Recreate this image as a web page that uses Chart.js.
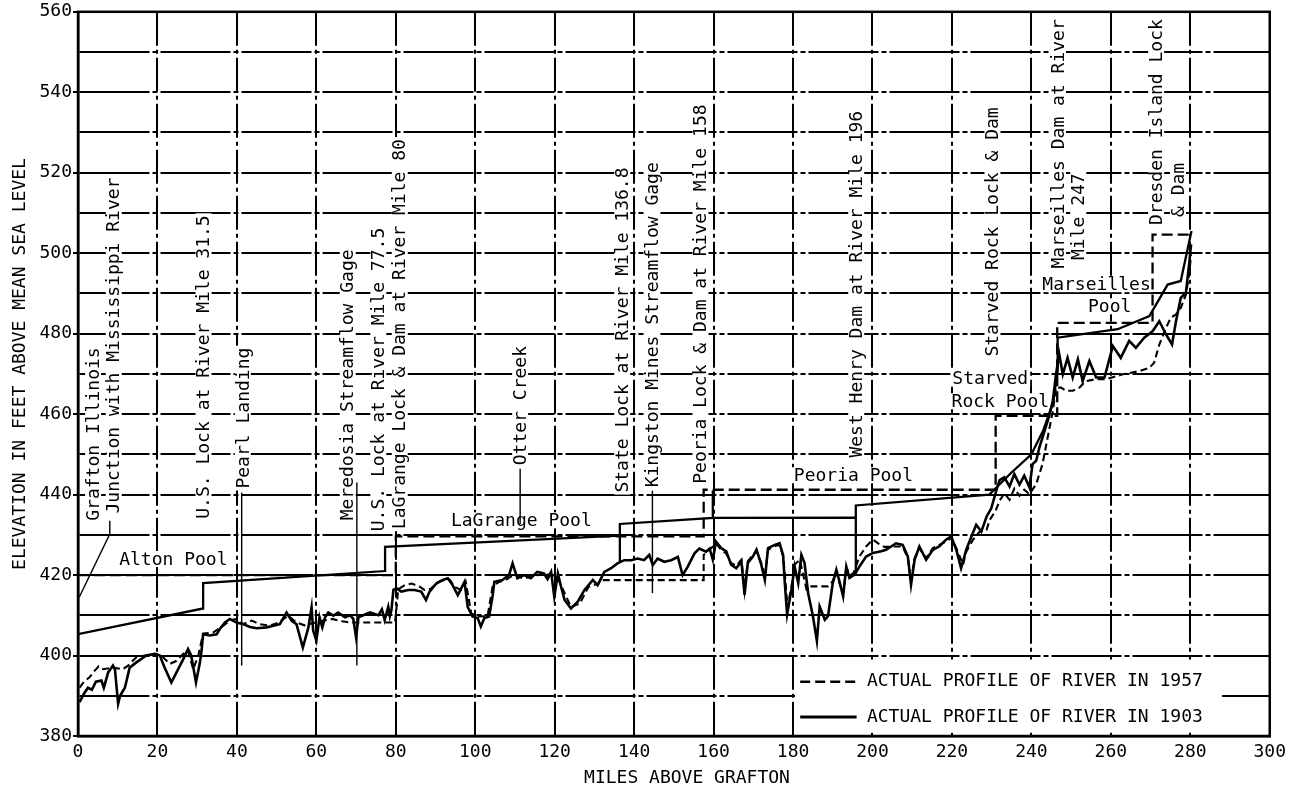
<!DOCTYPE html>
<html lang="en">
<head>
<meta charset="UTF-8">
<title>Illinois River profile, Grafton to Dresden</title>
<script src="https://cdn.jsdelivr.net/npm/chart.js"></script>
<style>
  html, body { margin: 0; padding: 0; background: #fff; }
  #wrap { width: 1292px; height: 794px; }
</style>
</head>
<body>
<div id="wrap"><canvas id="profileChart" width="1292" height="794"></canvas></div>
<script>
// miles above Grafton / elevation in feet above mean sea level

// low-water profile, 1903 (solid)
const miles1903 = [0.4,1.5,2.5,3.5,4.5,5.9,6.5,7.6,8.8,9.3,10.1,10.6,11.8,13,14.7,17.2,19.3,20.6,21.8,23.5,24.8,26.5,27.7,28.5,29.7,30.7,31.1,31.5,33.2,34.9,35.7,37,38.2,39.9,41.6,43.3,45,47.5,49.2,50.8,52.5,53.8,55,56.6,58,58.8,59.2,60,60.8,61.5,62.2,63,64.3,65.5,67.2,68.5,69.3,70,70.6,71.8,73.5,75.6,76.5,77.2,78.1,78.5,78.9,79.4,80.2,81.4,83.1,84.7,86.4,87.6,88.5,90.2,91.8,93.1,94.3,95.6,97.3,98.1,99.3,100.6,101.4,102.3,103.5,104.4,104.8,106.9,108.5,109.4,110.6,112.3,114,115.6,117.3,118.2,119.1,119.9,120.8,121.6,122.5,124.1,125.8,127.5,129.6,130.8,132.5,134.2,135.8,137.5,139.2,140.9,142.5,143.8,144.7,145.9,147.6,149.3,151,152.2,153.5,155.2,156.4,158.1,159,159.8,160.6,161.9,163.2,164.4,165.7,167,167.8,168.6,169.9,170.8,172,172.9,173.7,175.4,176.6,177.5,177.9,178.5,179.6,180.4,181.3,182.1,182.9,183.8,185,186,186.7,188,188.8,190,190.9,191.7,192.6,193.4,194.2,195.5,196.7,198.4,200.1,202.2,203.4,204.7,205.9,207.6,208.9,209.7,210.6,211.8,213.5,215.2,216.8,218.5,219.8,221.1,222.3,223.6,224.9,226.1,227.4,228.7,229.9,231.2,232,233.2,234.5,235.7,237,238.2,239.5,240.3,241.2,242,243.3,244.5,245.4,246.2,247,247.9,249.1,250.4,251.7,252.9,254.6,256.3,258.4,260.5,262.5,264.6,266.3,268.4,270.5,272.2,273.9,275.4,276.4,277.6,278.9,279.7,280.2];
const elev1903 = [388.4,390.5,392,391.5,393.5,393.8,392,395.8,397.5,396.5,388,390,392,397,398.3,400,400.4,400,397,393.3,395.8,399.1,401.6,400,393.3,398.3,401.2,405.3,405,405.3,406.6,408.2,409.1,408.2,407.8,407.1,406.8,407,407.4,407.8,410.7,408.6,407.8,402,407,412,406.2,403.7,409.5,407,409.5,410.7,409.9,410.7,409.5,410,409.1,404.5,409.5,410,410.7,410,411.5,408.8,412.1,409.8,411.3,416.3,416.7,415.9,416.3,416.3,415.9,413.8,415.9,417.9,418.8,419.2,417.5,415,418.3,412.1,409.7,409.3,407.2,409.3,409.7,415,418.3,418.8,420,422.9,419.2,420,419.2,420.8,420.4,419,420.8,414.6,420.4,417.1,413.8,411.7,413.4,416.3,418.8,417.5,420.8,421.7,422.9,423.7,423.7,424.1,423.7,425,422.5,424.1,423.3,423.7,424.5,420,422.1,425.4,426.6,425.8,426.6,423.8,428.3,426.7,425.9,422.6,421.7,423.4,415.1,423,424.6,426.3,422.6,418.8,426.7,427.5,427.9,425,418.4,410.2,416.4,422.1,418,425,423,415.5,409.8,403.6,412.2,408.9,409.8,418,421.3,418.4,414.7,422.1,419.3,420.1,422.1,424.6,425.5,425.9,426.3,427.1,427.9,427.5,424.6,417.6,423.8,427.1,423.8,426.3,427.1,428.8,429.6,426.3,421.7,426.3,429.6,432.5,430.8,434.5,436.6,441.1,443.6,444.3,442,445.1,442.5,444.7,441.8,447.6,448.4,451.7,455.8,459.6,463.3,469.9,474.9,469.9,474,469.1,473.6,468.2,473.2,469.1,469.1,476.9,474,478.2,476.5,479,480.6,483.1,479.8,477.3,483.1,488.9,490.2,497.2,502.2];

// low-water profile, 1957 (dashed)
const miles1957 = [0.4,1.5,2.9,4,5.2,6.3,8.8,11.3,12.6,14.7,16.8,19.7,21.5,23.1,24.8,26.5,27.7,29,30.3,31.1,31.6,34,36.6,38.2,39.9,41.6,43.7,45.8,48.3,50.5,52.9,55,57,59,61.8,64,66.5,68.5,71,74,76.9,79.8,80.2,80.6,82.3,84,86,87.2,88.8,90.7,92.4,93.6,94.8,96.4,97.6,99,100.6,103.1,104.4,106,107.7,108.9,110.2,111.9,114.5,117,119.5,120.8,122.5,124.1,126.3,128.5,131,131.5,157.5,157.5,159,160.6,162,163.2,164.4,165.7,167,167.8,168.6,169.9,170.8,172,172.9,173.7,175.4,176.6,177.5,178,178.6,179.6,180.4,181.7,183.4,184.6,186.7,188.8,190,190.9,191.7,192.6,193.4,195.1,196.7,198.4,200.1,201.5,203,205.6,207.6,208.9,209.7,210.6,211.8,213.5,215.2,216.8,218.5,219.8,221.1,222.8,223.6,225.3,227,228.7,229.5,231,232,233.2,234.5,235.7,237,238.2,239.5,241.2,242.8,244.1,245.4,246.2,247.5,248.7,250.4,252.1,253.7,256.3,258.8,263,267.2,269.7,270.9,272.2,273.9,275.1,276.4,277.6,278.9,279.7,280.2];
const elev1957 = [392,393.5,394.6,396,397.3,396.6,397,396.6,397.5,399.6,400,400.4,399.5,397.9,398.7,400.4,401.2,396.6,400,403.7,405.5,405.7,407.4,408.7,409.1,407.8,408.7,407.8,407.4,408.2,409.9,408.2,407.5,408,408.7,409.1,408.5,408.2,408.2,408.2,408.2,408.2,412,416.5,417.5,417.9,417.1,416.3,416.6,418.3,418.8,418.8,417.1,416.3,418.3,410.5,409.7,409.8,417.3,418.3,418.8,419.6,420,419.2,419.6,420.4,420,419.2,415.5,412.1,412.9,417.1,417.9,418.75,418.75,425,426.3,427.8,426.2,425.3,423,422.3,423.8,416,423.4,425,426,423,419.5,426.3,427.2,427.5,424.6,419.5,412,417,422.6,423.8,416.4,417.2,417.2,417.2,418.5,420.8,417.9,415.5,421.5,420.1,424.6,427.1,428.8,427.8,427,427.1,427.1,424.2,418.5,424.2,426.7,424.2,426.7,427.5,428.3,429.2,426.7,422.6,425.8,428.8,430.8,431.2,433.7,436,438.5,440.3,438.7,441.5,439.7,441.2,440.1,442.6,447.6,454.2,460.8,466.6,466.6,465.8,465.8,466.6,468.2,468.7,468.7,469.9,470.7,471.5,472.8,477.3,481.5,484,484.8,486.4,489.7,494.7,499.7];

// pool water surfaces behind the old locks and dams (solid)
const poolMiles1903 = [0,31.5,31.5,77.3,77.3,136.4,136.4,136.4,159.8,159.8,159.8,195.8,195.8,195.8,229.4,235,240,243,245.5,246.6,246.6,261.7,269.7,274.3,277.6,280.3];
const poolElev1903 = [405.3,411.7,418,421,427,429.8,423,432.7,434.2,441,434.2,434.3,420.1,437.3,440,445.5,450,456,463,470.7,479,481.1,484.4,492.2,493.1,505.5];

// present navigation pools: Alton, LaGrange, Peoria, Starved Rock, Marseilles, Dresden (dashed)
const poolMiles1957 = [0,80,80,157.5,157.5,231,231,246.5,246.5,270.5,270.5,279.7];
const poolElev1957 = [420,420,429.6,429.6,441.2,441.2,459.6,459.6,482.7,482.7,504.6,504.6];

const seriesNames = ['ACTUAL PROFILE OF RIVER IN 1957', 'ACTUAL PROFILE OF RIVER IN 1903'];

// landmark captions, written upward from [mile, elevation]
const landmarks = [
  ['Grafton Illinois', 3.8, 433.5],
  ['Junction with Mississippi River', 9.0, 435.3],
  ['U.S. Lock at River Mile 31.5', 31.6, 434],
  ['Pearl Landing', 41.5, 441.5],
  ['Meredosia Streamflow Gage', 67.9, 433.6],
  ['U.S. Lock at River Mile 77.5', 75.6, 430.9],
  ['LaGrange Lock & Dam at River Mile 80', 81.0, 431.4],
  ['Otter Creek', 111.3, 447.3],
  ['State Lock at River Mile 136.8', 137.0, 440.5],
  ['Kingston Mines Streamflow Gage', 144.6, 441.8],
  ['Peoria Lock & Dam at River Mile 158', 156.7, 442.7],
  ['West Henry Dam at River Mile 196', 195.9, 449.2],
  ['Starved Rock Lock & Dam', 230.2, 474.3],
  ['Marseilles Dam at River', 246.7, 496.2],
  ['Mile 247', 251.8, 498.3],
  ['Dresden Island Lock', 271.4, 507],
  ['& Dam', 276.9, 509]
];

// pool names, centred (or left-aligned) on [mile, elevation]
const poolNames = [
  ['Alton Pool', 24, 424, 'center'],
  ['LaGrange Pool', 111.6, 433.6, 'center'],
  ['Peoria Pool', 195.2, 444.8, 'center'],
  ['Starved', 220.1, 468.8, 'left'],
  ['Rock Pool', 219.9, 463.2, 'left'],
  ['Marseilles', 256.4, 492.3, 'center'],
  ['Pool', 259.7, 486.8, 'center']
];

// thin leader lines from captions to the river
const leaders = [
  [[0.3, 414.5], [8.0, 430.2], [8.0, 433.5]],
  [[41.2, 440.5], [41.2, 397.5]],
  [[70.2, 443], [70.2, 397.5]],
  [[111.3, 446.4], [111.3, 432.7]],
  [[144.6, 441], [144.6, 415.5]]
];

const FONT = '"DejaVu Sans Mono", "Liberation Mono", monospace';

const toPoints = (xs, ys) => xs.map((x, i) => ({ x: x, y: ys[i] }));

const notesPlugin = {
  id: 'notes',
  beforeDatasetsDraw(chart) {
    const { ctx, scales: { x, y } } = chart;
    ctx.save();
    ctx.font = '18px ' + FONT;
    ctx.fillStyle = '#000';

    // rotated captions with a white strip behind them
    landmarks.forEach(([text, mi, el]) => {
      const px = x.getPixelForValue(mi);
      const py = y.getPixelForValue(el);
      const w = ctx.measureText(text).width;
      ctx.save();
      ctx.translate(px, py);
      ctx.rotate(-Math.PI / 2);
      ctx.fillStyle = '#fff';
      ctx.fillRect(-2, -8, w + 4, 16);
      ctx.fillStyle = '#000';
      ctx.textAlign = 'left';
      ctx.textBaseline = 'middle';
      ctx.fillText(text, 0, 1);
      ctx.restore();
    });

    poolNames.forEach(([text, mi, el, align]) => {
      const px = x.getPixelForValue(mi);
      const py = y.getPixelForValue(el);
      const w = ctx.measureText(text).width;
      const left = align === 'left' ? px : px - w / 2;
      ctx.fillStyle = '#fff';
      ctx.fillRect(left - 2, py - 8, w + 4, 16);
      ctx.fillStyle = '#000';
      ctx.textAlign = 'left';
      ctx.textBaseline = 'middle';
      ctx.fillText(text, left, py + 1);
    });

    ctx.strokeStyle = '#000';
    ctx.lineWidth = 1.4;
    leaders.forEach(pts => {
      ctx.beginPath();
      pts.forEach(([mi, el], i) => {
        const px = x.getPixelForValue(mi), py = y.getPixelForValue(el);
        if (i === 0) ctx.moveTo(px, py); else ctx.lineTo(px, py);
      });
      ctx.stroke();
    });

    // legend box in the lower right corner of the plot
    const bx1 = x.getPixelForValue(180.5), bx2 = x.getPixelForValue(288);
    const by1 = y.getPixelForValue(399), by2 = y.getPixelForValue(380.8);
    ctx.fillStyle = '#fff';
    ctx.fillRect(bx1, by1, bx2 - bx1, by2 - by1);
    const rows = [
      { ds: chart.data.datasets[1], el: 393.5 },
      { ds: chart.data.datasets[0], el: 384.7 }
    ];
    rows.forEach(r => {
      const py = y.getPixelForValue(r.el);
      ctx.strokeStyle = '#000';
      ctx.lineWidth = r.ds.borderWidth + 0.4;
      ctx.setLineDash(r.ds.borderDash ? [10, 5] : []);
      ctx.beginPath();
      ctx.moveTo(x.getPixelForValue(181.8), py);
      ctx.lineTo(x.getPixelForValue(196), py);
      ctx.stroke();
      ctx.setLineDash([]);
      ctx.fillStyle = '#000';
      ctx.textAlign = 'left';
      ctx.textBaseline = 'middle';
      ctx.fillText(r.ds.label, x.getPixelForValue(198.6), py);
    });
    ctx.restore();
  },
  afterDraw(chart) {
    const { ctx, chartArea: a } = chart;
    ctx.save();
    // plot frame
    ctx.strokeStyle = '#000';
    ctx.lineWidth = 2.5;
    ctx.strokeRect(a.left, a.top, a.right - a.left, a.bottom - a.top);
    // axis titles
    ctx.font = '18px ' + FONT;
    ctx.fillStyle = '#000';
    ctx.textAlign = 'center';
    ctx.textBaseline = 'middle';
    ctx.fillText('MILES ABOVE GRAFTON', 687, 778);
    ctx.translate(20, 364);
    ctx.rotate(-Math.PI / 2);
    ctx.fillText('ELEVATION IN FEET ABOVE MEAN SEA LEVEL', 0, 0);
    ctx.restore();
  }
};

const chart = new Chart(document.getElementById('profileChart'), {
  type: 'line',
  data: {
    datasets: [
      {
        label: seriesNames[1],
        data: toPoints(miles1903, elev1903),
        borderColor: '#000',
        borderWidth: 2.6,
        pointRadius: 0,
        tension: 0
      },
      {
        label: seriesNames[0],
        data: toPoints(miles1957, elev1957),
        borderColor: '#000',
        borderWidth: 2.1,
        borderDash: [7, 4],
        pointRadius: 0,
        tension: 0
      },
      {
        label: 'pools 1903',
        data: toPoints(poolMiles1903, poolElev1903),
        borderColor: '#000',
        borderWidth: 2.3,
        pointRadius: 0,
        tension: 0
      },
      {
        label: 'pools 1957',
        data: toPoints(poolMiles1957, poolElev1957),
        borderColor: '#000',
        borderWidth: 2.3,
        borderDash: [11, 5],
        pointRadius: 0,
        tension: 0
      }
    ]
  },
  options: {
    responsive: false,
    animation: false,
    devicePixelRatio: 1,
    layout: { padding: { top: 10, right: 22, left: 0, bottom: 0 } },
    plugins: {
      legend: { display: false },
      tooltip: { enabled: false }
    },
    scales: {
      x: {
        type: 'linear',
        min: 0,
        max: 300,
        ticks: {
          stepSize: 20,
          color: '#000',
          padding: 6,
          maxRotation: 0,
          font: { family: FONT, size: 18 }
        },
        grid: { color: '#000', lineWidth: 2, drawTicks: false },
        border: { color: '#000', width: 2.5, dash: [34, 4, 4, 4] },
        afterFit: s => { s.height = 58; }
      },
      y: {
        min: 380,
        max: 560,
        ticks: {
          stepSize: 10,
          color: '#000',
          padding: 1,
          font: { family: FONT, size: 18 },
          callback: v => (v % 20 === 0 ? v : '')
        },
        grid: {
          color: '#000',
          lineWidth: 2,
          tickLength: 5,
          tickColor: c => (c.tick && c.tick.value % 20 === 0 ? '#000' : 'rgba(0,0,0,0)')
        },
        border: { color: '#000', width: 2.5, dash: [70, 3, 5, 3] },
        afterFit: s => { s.width = 78; }
      }
    }
  },
  plugins: [notesPlugin]
});
</script>
</body>
</html>
